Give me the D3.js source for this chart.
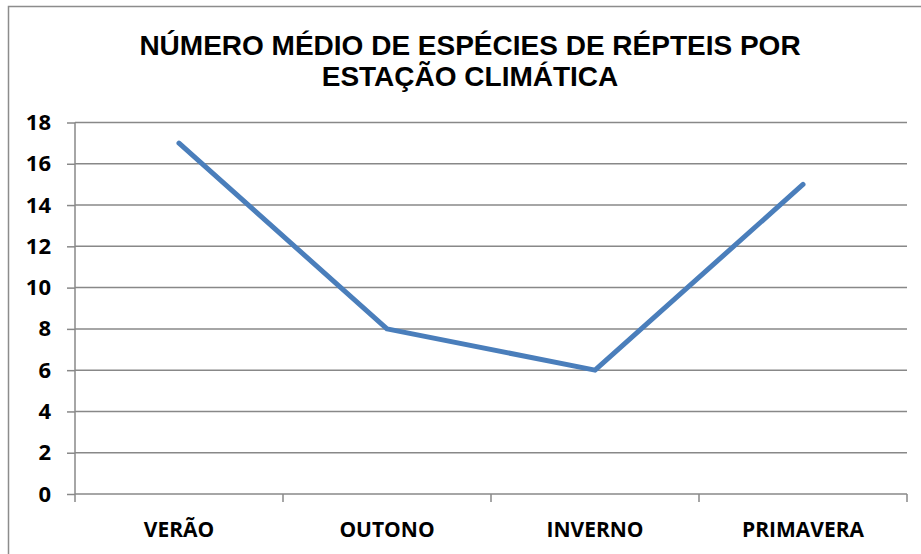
<!DOCTYPE html>
<html>
<head>
<meta charset="utf-8">
<script src="https://cdn.jsdelivr.net/npm/d3@7"></script>
<style>
  body { margin: 0; background: #fff; }
  svg { display: block; }
</style>
</head>
<body>
<script>
var seasons = ['VERÃO', 'OUTONO', 'INVERNO', 'PRIMAVERA'];
var species = [17, 8, 6, 15];
var yTicks = [0, 2, 4, 6, 8, 10, 12, 14, 16, 18];
var titleLines = ['NÚMERO MÉDIO DE ESPÉCIES DE RÉPTEIS POR', 'ESTAÇÃO CLIMÁTICA'];

var width = 921, height = 554;
var plot = { left: 75, right: 907, top: 122.5, bottom: 494 };

var svg = d3.select('body').append('svg')
  .attr('width', width)
  .attr('height', height);

// chart frame (only top and left edges visible in the crop)
svg.append('rect')
  .attr('x', 8.5).attr('y', 6.5)
  .attr('width', 940).attr('height', 600)
  .attr('fill', '#fff')
  .attr('stroke', '#8c8c8c')
  .attr('stroke-width', 1.5);

// title
svg.append('text')
  .attr('text-anchor', 'middle')
  .attr('font-family', 'Liberation Sans, Arial, sans-serif')
  .attr('font-weight', 'bold')
  .attr('font-size', 28)
  .attr('fill', '#000')
  .selectAll('tspan')
  .data(titleLines)
  .enter().append('tspan')
  .attr('x', 470)
  .attr('y', function(d, i) { return 55 + i * 31; })
  .text(function(d) { return d; });

var x = d3.scaleBand().domain(seasons).range([plot.left, plot.right]);
var y = d3.scaleLinear().domain([0, 18]).range([plot.bottom, plot.top]);

// gridlines
svg.append('g')
  .selectAll('line')
  .data(yTicks.slice(1))
  .enter().append('line')
  .attr('x1', plot.left).attr('x2', plot.right)
  .attr('y1', function(d) { return y(d); })
  .attr('y2', function(d) { return y(d); })
  .attr('stroke', '#888')
  .attr('stroke-width', 1.5);

// y axis
var yAxis = svg.append('g')
  .attr('transform', 'translate(' + plot.left + ',0)')
  .call(d3.axisLeft(y).tickValues(yTicks).tickSize(8).tickPadding(16));

// x axis
var xAxis = svg.append('g')
  .attr('transform', 'translate(0,' + plot.bottom + ')')
  .call(d3.axisBottom(x).tickSize(0).tickPadding(28));

// category boundary ticks
svg.append('g')
  .selectAll('line')
  .data(seasons.concat(['end']))
  .enter().append('line')
  .attr('x1', function(d, i) { return plot.left + i * x.bandwidth(); })
  .attr('x2', function(d, i) { return plot.left + i * x.bandwidth(); })
  .attr('y1', plot.bottom).attr('y2', plot.bottom + 8)
  .attr('stroke', '#888')
  .attr('stroke-width', 1.5);

[yAxis, xAxis].forEach(function(a) {
  a.select('.domain').attr('stroke', '#888').attr('stroke-width', 1.5);
  a.selectAll('.tick line').attr('stroke', '#888').attr('stroke-width', 1.5);
  a.selectAll('text')
    .attr('font-family', 'Open Sans, sans-serif')
    .attr('font-weight', 'bold')
    .attr('font-size', 21)
    .attr('fill', '#000');
});
yAxis.selectAll('text').attr('font-size', 22);
xAxis.select('.domain').attr('d', 'M' + plot.left + ',0H' + plot.right);
yAxis.select('.domain').attr('d', 'M0,' + plot.bottom + 'V' + plot.top);

// line
var line = d3.line()
  .x(function(d, i) { return x(seasons[i]) + x.bandwidth() / 2; })
  .y(function(d) { return y(d); });

svg.append('path')
  .datum(species)
  .attr('d', line)
  .attr('fill', 'none')
  .attr('stroke', '#4a7ebb')
  .attr('stroke-width', 5)
  .attr('stroke-linecap', 'round')
  .attr('stroke-linejoin', 'round');
</script>
</body>
</html>
